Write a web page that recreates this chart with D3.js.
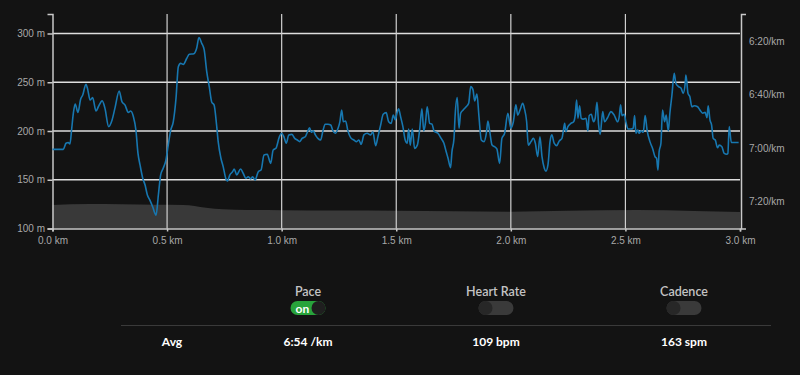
<!DOCTYPE html>
<html>
<head>
<meta charset="utf-8">
<script src="https://cdn.jsdelivr.net/npm/d3@7"></script>
<style>
  body { margin: 0; background: #131313; }
  svg { display: block; font-family: Lato, "Noto Sans", sans-serif; }
</style>
</head>
<body>
<svg id="chart" width="800" height="375"></svg>
<script>
// pace trace (km, seconds per km)
var distKm = [0, 0.047, 0.059, 0.069, 0.076, 0.084, 0.091, 0.099, 0.111, 0.123,
  0.132, 0.146, 0.154, 0.164, 0.175, 0.190, 0.200, 0.217, 0.229, 0.245,
  0.260, 0.273, 0.291, 0.303, 0.316, 0.331, 0.341, 0.353, 0.364, 0.373,
  0.382, 0.394, 0.404, 0.414, 0.425, 0.437, 0.452, 0.462, 0.472, 0.483,
  0.495, 0.505, 0.516, 0.527, 0.539, 0.549, 0.559, 0.571, 0.586, 0.597,
  0.617, 0.629, 0.639, 0.651, 0.662, 0.673, 0.684, 0.695, 0.705, 0.716,
  0.723, 0.735, 0.745, 0.756, 0.763, 0.774, 0.786, 0.793, 0.804, 0.821,
  0.832, 0.844, 0.854, 0.865, 0.873, 0.884, 0.898, 0.910, 0.923, 0.937,
  0.952, 0.963, 0.975, 0.990, 1.000,
  1.010, 1.020, 1.031, 1.045, 1.057, 1.068, 1.079, 1.089, 1.103, 1.112,
  1.122, 1.129, 1.138, 1.147, 1.158, 1.170, 1.180, 1.190, 1.202, 1.214,
  1.224, 1.234, 1.246, 1.254, 1.262, 1.269, 1.279, 1.289, 1.301, 1.315,
  1.327, 1.337, 1.347, 1.359, 1.373, 1.388, 1.398, 1.410, 1.420, 1.432,
  1.443, 1.456, 1.467, 1.478, 1.487, 1.496, 1.503, 1.510, 1.519, 1.529,
  1.539, 1.548, 1.554, 1.561, 1.570, 1.580, 1.592, 1.602, 1.612, 1.620,
  1.628, 1.635, 1.646, 1.656, 1.665, 1.682, 1.696, 1.708, 1.718, 1.726,
  1.737, 1.743, 1.752, 1.757, 1.766, 1.774, 1.781, 1.792, 1.805, 1.816,
  1.825, 1.835, 1.842, 1.852, 1.861, 1.871, 1.883, 1.893, 1.900, 1.908,
  1.918, 1.929, 1.939, 1.951, 1.961, 1.973, 1.987,
  2.000, 2.011, 2.022, 2.030, 2.040, 2.052, 2.059, 2.069, 2.076, 2.088,
  2.098, 2.107, 2.117, 2.127, 2.136, 2.146, 2.153, 2.162, 2.171, 2.179,
  2.189, 2.200, 2.211, 2.223, 2.229, 2.235, 2.240, 2.249, 2.262, 2.274,
  2.281, 2.287, 2.293, 2.300, 2.307, 2.316, 2.328, 2.336, 2.342, 2.351,
  2.361, 2.368, 2.376, 2.383, 2.390, 2.401, 2.409, 2.422, 2.437, 2.451,
  2.466, 2.473, 2.479, 2.485, 2.495, 2.502, 2.511, 2.524, 2.534, 2.540,
  2.546, 2.554, 2.560, 2.568, 2.578, 2.586, 2.595, 2.607, 2.619, 2.629,
  2.636, 2.642, 2.647, 2.655, 2.662, 2.671, 2.678, 2.687, 2.694, 2.703,
  2.713, 2.720, 2.732, 2.743, 2.752, 2.761, 2.764, 2.773, 2.781, 2.790,
  2.800, 2.815, 2.825, 2.837, 2.848, 2.856, 2.861, 2.869, 2.876, 2.883,
  2.892, 2.902, 2.909, 2.921, 2.931, 2.942, 2.947, 2.953, 2.962, 2.994];

var paceSec = [420.5, 420.5, 418.2, 417.9, 418.5, 412.6, 407.0, 403.6, 406.7, 401.7,
  400.2, 396.2, 398.3, 402.1, 401.2, 406.2, 404.6, 402.4, 405.2, 412.0,
  409.5, 404.9, 398.7, 402.7, 403.9, 406.7, 406.2, 408.3, 413.3, 422.0,
  426.3, 431.3, 433.8, 437.5, 439.4, 441.9, 445.0, 437.5, 430.0, 427.5,
  424.5, 418.9, 413.3, 410.2, 401.4, 389.7, 388.4, 388.8, 386.5, 385.0,
  384.8, 382.8, 378.8, 380.9, 383.4, 391.5, 397.1, 402.9, 403.9, 411.4,
  417.6, 423.8, 427.0, 431.3, 432.3, 430.0, 428.8, 427.8, 430.0, 427.8,
  429.4, 431.3, 430.7, 431.5, 430.7, 431.9, 428.8, 428.2, 422.6, 422.3,
  425.7, 420.7, 420.1, 415.8, 414.5,
  415.8, 418.2, 415.1, 414.9, 416.4, 417.0, 417.6, 416.4, 415.8, 414.1,
  412.4, 414.1, 413.6, 415.1, 416.4, 417.0, 413.6, 411.1, 411.1, 411.4,
  413.6, 414.5, 412.6, 410.2, 405.8, 410.2, 409.9, 413.6, 416.1, 417.0,
  417.6, 417.0, 418.6, 415.1, 414.5, 415.1, 413.9, 419.1, 415.8, 411.4,
  407.4, 406.8, 410.2, 410.8, 407.7, 409.5, 407.0, 405.4, 408.3, 412.0,
  417.0, 418.2, 412.9, 418.9, 412.9, 420.1, 418.9, 413.3, 405.4, 413.6,
  410.2, 404.6, 410.8, 411.1, 413.6, 414.5, 416.4, 418.2, 421.4, 423.8,
  427.3, 421.4, 416.4, 407.7, 401.2, 412.6, 407.0, 405.8, 404.6, 403.3,
  397.1, 398.3, 402.4, 399.9, 408.3, 417.0, 417.6, 414.5, 409.9, 413.9,
  418.9, 419.5, 420.3, 425.7, 416.4, 414.5, 407.0,
  412.6, 410.2, 403.9, 407.7, 405.8, 403.3, 405.2, 410.2, 418.9, 417.6,
  416.4, 418.2, 423.2, 415.8, 423.2, 427.5, 428.6, 426.3, 417.6, 415.1,
  418.2, 419.1, 417.4, 416.4, 413.6, 410.8, 413.9, 412.0, 410.8, 410.2,
  407.7, 402.1, 408.9, 404.2, 408.9, 409.2, 408.9, 413.6, 407.9, 407.4,
  410.2, 408.9, 402.9, 411.4, 414.9, 406.4, 410.2, 408.7, 406.4, 407.7,
  410.2, 408.3, 403.9, 407.9, 407.4, 410.2, 412.9, 412.9, 412.6, 407.9,
  414.5, 413.3, 414.5, 413.6, 414.1, 407.9, 413.6, 417.6, 420.3, 423.2,
  423.8, 428.2, 421.4, 418.2, 405.8, 410.2, 407.7, 413.6, 407.0, 400.2,
  392.1, 395.8, 397.1, 397.7, 399.6, 395.8, 392.8, 399.6, 400.8, 404.6,
  404.2, 404.6, 405.8, 407.0, 406.7, 408.7, 404.2, 409.5, 411.4, 416.4,
  417.0, 419.9, 418.9, 419.5, 422.0, 422.3, 422.0, 412.0, 417.9, 417.9];

// elevation profile (km, metres)
var elevKm = [0, 0.16, 0.3, 0.45, 0.57, 0.67, 0.745, 0.85, 1.0, 1.25, 1.5, 1.75, 2.0, 2.25, 2.55, 2.8, 3.0];
var elevM = [124.1, 125.1, 124.8, 124.3, 124.1, 121.3, 119.7, 119.0, 118.8, 118.4, 118.2, 117.8, 117.3, 118.2, 119.0, 118.0, 117.0];

var elevTicks = [100, 150, 200, 250, 300];
var paceTicks = [380, 400, 420, 440];
var distTicks = [0, 0.5, 1, 1.5, 2, 2.5, 3];

var metrics = ["Pace", "Heart Rate", "Cadence"];
var metricOn = [true, false, false];
var avgLabel = "Avg";
var avgValues = ["6:54 /km", "109 bpm", "163 spm"];

var svg = d3.select("#chart");
var plotL = 52.5, plotR = 740, plotT = 14, plotB = 228.5;

var x = d3.scaleLinear().domain([0, 3]).range([plotL, plotR]);
var yElev = d3.scaleLinear().domain([100, 320]).range([plotB, plotT]);
var yPace = d3.scaleLinear().domain([370, 450]).range([plotT, plotB]);

function fmtPace(s) {
  var m = Math.floor(s / 60), r = Math.round(s % 60);
  return m + ":" + (r < 10 ? "0" + r : r) + "/km";
}

// elevation area
var elevData = d3.zip(elevKm, elevM);
svg.append("path")
  .datum(elevData)
  .attr("fill", "#393939")
  .attr("d", d3.area()
    .x(d => x(d[0]))
    .y0(plotB)
    .y1(d => yElev(d[1]))
    .curve(d3.curveMonotoneX));

// grid
svg.append("g").selectAll("line")
  .data(elevTicks.filter(d => d > 100))
  .join("line")
  .attr("x1", plotL).attr("x2", plotR)
  .attr("y1", d => yElev(d)).attr("y2", d => yElev(d))
  .attr("stroke", "#dedede")
  .attr("stroke-width", 1.5);

svg.append("g").selectAll("line")
  .data(distTicks.filter(d => d > 0 && d < 3))
  .join("line")
  .attr("x1", d => x(d)).attr("x2", d => x(d))
  .attr("y1", plotT).attr("y2", plotB)
  .attr("stroke", "#d0d0d0")
  .attr("stroke-width", 1.2);

// axes
var gx = svg.append("g")
  .attr("transform", "translate(0," + plotB + ")")
  .call(d3.axisBottom(x).tickValues(distTicks)
    .tickFormat(d => d.toFixed(1) + " km").tickSize(3).tickPadding(5));

var gl = svg.append("g")
  .attr("transform", "translate(" + plotL + ",0)")
  .call(d3.axisLeft(yElev).tickValues(elevTicks)
    .tickFormat(d => d + " m").tickSize(5).tickPadding(2.5));

var gr = svg.append("g")
  .attr("transform", "translate(" + (plotR + 1) + ",0)")
  .call(d3.axisRight(yPace).tickValues(paceTicks)
    .tickFormat(fmtPace).tickSizeInner(0).tickSizeOuter(5).tickPadding(8));

[gx, gl, gr].forEach(function (g) {
  g.selectAll("path, line").attr("stroke", "#c8c8c8").attr("stroke-width", 1.5);
  g.selectAll("text").attr("fill", "#a8a8a8").style("font-size", "10px");
});

// pace line
var paceData = d3.zip(distKm, paceSec);
svg.append("path")
  .datum(paceData)
  .attr("fill", "none")
  .attr("stroke", "#1777b0")
  .attr("stroke-width", 1.6)
  .attr("stroke-linejoin", "round")
  .attr("d", d3.line()
    .x(d => x(d[0]))
    .y(d => yPace(d[1]))
    .curve(d3.curveMonotoneX));

// toggles and averages below the chart
var col = d3.scalePoint().domain(metrics).range([308, 684]);

svg.append("g").selectAll("text")
  .data(metrics)
  .join("text")
  .attr("x", d => col(d))
  .attr("y", 295.5)
  .attr("text-anchor", "middle")
  .attr("fill", "#c4c4c4")
  .style("font-size", "12.5px")
  .style("font-weight", "600")
  .text(d => d);

var tg = svg.append("g").selectAll("g")
  .data(metrics)
  .join("g")
  .attr("transform", d => "translate(" + col(d) + ",308)");

tg.append("rect")
  .attr("x", -17.5).attr("y", -7)
  .attr("width", 35).attr("height", 14)
  .attr("rx", 7)
  .attr("fill", (d, i) => metricOn[i] ? "#28a33b" : "#3a3a3a");

tg.append("circle")
  .attr("cx", (d, i) => metricOn[i] ? 10.5 : -10.5)
  .attr("r", 7)
  .attr("fill", (d, i) => metricOn[i] ? "#1f1f1f" : "#272727");

tg.filter((d, i) => metricOn[i])
  .append("text")
  .attr("x", -12.5).attr("y", 4.5)
  .attr("fill", "#ffffff")
  .style("font-size", "12px")
  .style("font-weight", "700")
  .text("on");

svg.append("line")
  .attr("x1", 121).attr("x2", 771)
  .attr("y1", 325.5).attr("y2", 325.5)
  .attr("stroke", "#3a3a3a")
  .attr("stroke-width", 1);

svg.append("text")
  .attr("x", 172).attr("y", 346)
  .attr("text-anchor", "middle")
  .attr("fill", "#ffffff")
  .style("font-size", "12px")
  .style("font-weight", "700")
  .text(avgLabel);

svg.append("g").selectAll("text")
  .data(avgValues)
  .join("text")
  .attr("x", (d, i) => col(metrics[i]))
  .attr("y", 346)
  .attr("text-anchor", "middle")
  .attr("fill", "#ffffff")
  .style("font-size", "12px")
  .style("font-weight", "700")
  .text(d => d);
</script>
</body>
</html>
